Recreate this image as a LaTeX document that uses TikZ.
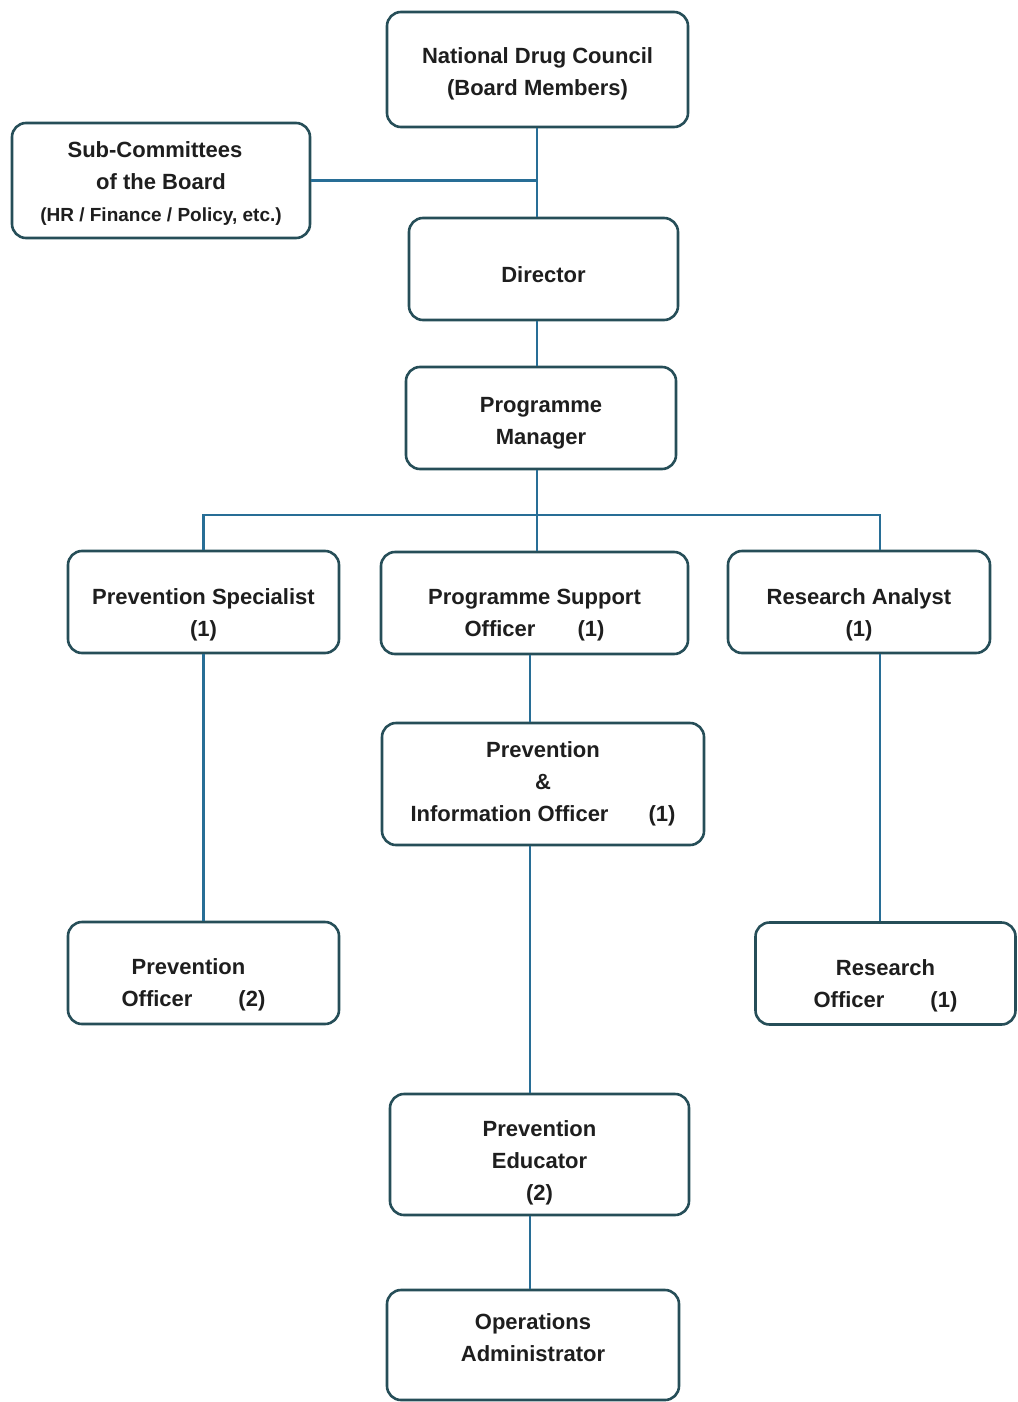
\documentclass[tikz,border=0pt]{standalone}
\usepackage{fontspec}
\setmainfont{Liberation Sans}
\usepackage{tikz}

\definecolor{boxline}{RGB}{38,78,88}
\definecolor{linkblue}{RGB}{40,110,150}
\definecolor{ink}{RGB}{30,30,30}
% struts to move a box's text down or up
\newcommand{\txtdrop}[1]{\rule{0pt}{#1pt}}
\newcommand{\txtlift}[1]{\rule[-#1pt]{0pt}{#1pt}}

\begin{document}
\begin{tikzpicture}[x=1pt,y=-1pt]
                \tikzstyle{post}=[draw=boxline, line width=2.6pt, rounded corners=14pt, fill=white,
                    inner sep=0pt, align=center, text=ink,
                    font=\fontsize{22}{32}\selectfont\bfseries]
                \tikzstyle{link}=[draw=linkblue, line width=2.6pt]
                \useasboundingbox (0,0) rectangle (1017,1402);
                \node [post, minimum width=301pt, minimum height=115pt] (ndc) at (537.5,69.5) {\txtdrop{25}National Drug Council\\(Board Members)};
                \node [post, minimum width=298pt, minimum height=115pt] (sub) at (161,180.5) {\txtdrop{22}Sub-Committees\hspace*{12pt}\\of the Board\hspace*{12pt}\\{\fontsize{19}{28}\selectfont (HR / Finance / Policy, etc.)}};
                \node [post, minimum width=269pt, minimum height=102pt] (dir) at (543.5,269) {\txtdrop{28}Director};
                \node [post, minimum width=270pt, minimum height=102pt] (pm) at (541,418) {\txtdrop{25}Programme\\Manager};
                \node [post, minimum width=271pt, minimum height=102pt] (ps) at (203.5,602) {\txtdrop{42}Prevention Specialist\\(1)};
                \node [post, minimum width=307pt, minimum height=102pt] (pso) at (534.5,603) {\txtdrop{40}Programme Support\\Officer\hspace{42pt}(1)};
                \node [post, minimum width=262pt, minimum height=102pt] (ra) at (859,602) {\txtdrop{42}Research Analyst\\(1)};
                \node [post, minimum width=322pt, minimum height=122pt] (pio) at (543,784) {Prevention\\\&\\Information Officer\hspace{40pt}(1)};
                \node [post, minimum width=271pt, minimum height=102pt] (po) at (203.5,973) {\txtdrop{40}Prevention\hspace*{30pt}\\Officer\hspace{46pt}(2)\hspace*{20pt}};
                \node [post, minimum width=260pt, minimum height=102pt] (ro) at (885.5,973.5) {\txtdrop{40}Research\\Officer\hspace{46pt}(1)};
                \node [post, minimum width=299pt, minimum height=121pt] (pe) at (539.5,1154.5) {\txtdrop{32}Prevention\\Educator\\(2)};
                \node [post, minimum width=292pt, minimum height=110pt] (oa) at (533,1345) {Operations\\Administrator\txtlift{15}};
                % branch points
                \coordinate (top) at (537,0);
                \coordinate (bus) at (537,515);
                \coordinate (rax) at (880,0);
                \coordinate (mid) at (530,0);
                \draw [link] (ndc.south -| top) -- (dir.north -| top);
                \draw [link] (sub.east) -- (sub.east -| top);
                \draw [link] (dir.south -| top) -- (pm.north -| top);
                \draw [link] (pm.south -| top) -- (bus);
                \draw [link] (ps.north) |- (bus) -| (ra.north -| rax);
                \draw [link] (bus) -- (pso.north -| bus);
                \draw [link] (ps.south) -- (po.north);
                \draw [link] (ra.south -| rax) -- (ro.north -| rax);
                \draw [link] (pso.south -| mid) -- (pio.north -| mid);
                \draw [link] (pio.south -| mid) -- (pe.north -| mid);
                \draw [link] (pe.south -| mid) -- (oa.north -| mid);
            \end{tikzpicture}
\end{document}
